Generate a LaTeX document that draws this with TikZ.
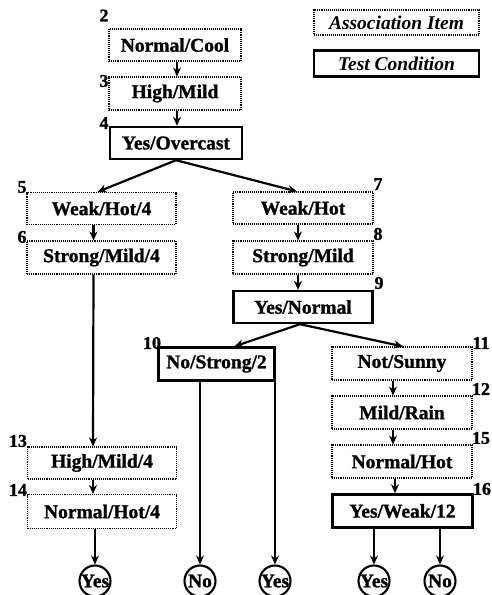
\documentclass[tikz,border=0pt]{standalone}
\usepackage{fontspec}
\setmainfont{Liberation Serif}[BoldFeatures={FakeBold=1.2}]
\usetikzlibrary{arrows.meta}
\begin{document}
\begin{tikzpicture}[x=1pt,y=-1pt,
  lbl/.style={font=\fontsize{19.5}{21}\selectfont\bfseries, inner sep=0pt},
  abox/.style={draw, densely dotted, line width=1.1pt, lbl},
  tbox/.style={draw, solid, line width=2.4pt, lbl},
  num/.style={font=\fontsize{18}{20}\selectfont\bfseries, inner sep=0pt},
  leaf/.style={draw, circle, line width=2.1pt, minimum size=31pt, inner sep=0pt, font=\fontsize{19.5}{21}\selectfont\bfseries},
  arr/.style={line width=2.2pt, -{Stealth[length=9pt,width=8pt]}}
]
\useasboundingbox (0,0) rectangle (491,595);
% legend
\node[abox, minimum width=165pt, minimum height=25pt] (ai) at (396.5,22.5) {\itshape Association Item};
\node[tbox, minimum width=165pt, minimum height=26pt] (tc) at (396.5,63.5) {\itshape Test Condition};
% top chain
\node[abox, minimum width=132pt, minimum height=32pt] (nc) at (175,45) {Normal/Cool};
\node[abox, minimum width=132pt, minimum height=33pt] (hm) at (175,93.5) {High/Mild};
\node[tbox, minimum width=132pt, minimum height=32pt] (yo) at (176,143) {Yes/Overcast};
% left column
\node[abox, minimum width=149pt, minimum height=32pt] (wh4) at (101.5,208.5) {Weak/Hot/4};
\node[abox, minimum width=149pt, minimum height=33pt] (sm4) at (101.5,257.5) {Strong/Mild/4};
\node[abox, minimum width=149pt, minimum height=32pt] (hm4) at (102,463) {High/Mild/4};
\node[abox, minimum width=149pt, minimum height=34pt] (nh4) at (102,511.5) {Normal/Hot/4};
% middle column
\node[abox, minimum width=140pt, minimum height=32pt] (wh) at (303,208) {Weak/Hot};
\node[abox, minimum width=140pt, minimum height=33pt] (sm) at (303,257.5) {Strong/Mild};
\node[tbox, minimum width=139pt, minimum height=32pt] (yn) at (303,307) {Yes/Normal};
\node[tbox, minimum width=116pt, minimum height=33pt] (ns2) at (216.5,364) {No/Strong/2};
% right column
\node[abox, minimum width=140pt, minimum height=33pt] (nsun) at (402,363.5) {Not/Sunny};
\node[abox, minimum width=140pt, minimum height=33pt] (mr) at (402,412.5) {Mild/Rain};
\node[abox, minimum width=140pt, minimum height=33pt] (nh) at (402,461.5) {Normal/Hot};
\node[tbox, minimum width=140pt, minimum height=33pt] (yw) at (402.5,511) {Yes/Weak/12};
% leaves
\node[leaf] (l1) at (95,581) {\makebox[0pt]{Yes}};
\node[leaf] (l2) at (200,581) {\makebox[0pt]{No}};
\node[leaf] (l3) at (275,581) {\makebox[0pt]{Yes}};
\node[leaf] (l4) at (374,581) {\makebox[0pt]{Yes}};
\node[leaf] (l5) at (440,581) {\makebox[0pt]{No}};
% numbers
\node[num] (n2) at (104,15.5) {2};
\node[num] (n3) at (104,81) {3};
\node[num] (n4) at (104,123) {4};
\node[num] (n5) at (22,187) {5};
\node[num] (n6) at (22,237) {6};
\node[num] (n7) at (378,184) {7};
\node[num] (n8) at (378,234) {8};
\node[num] (n9) at (379,283) {9};
\node[num] (n10) at (152,343) {10};
\node[num] (n11) at (481,343) {11};
\node[num] (n12) at (481,389) {12};
\node[num] (n15) at (481,438) {15};
\node[num] (n16) at (482,489) {16};
\node[num] (n13) at (18,441) {13};
\node[num] (n14) at (18,490) {14};
% connectors
\draw[arr] ([xshift=2pt]nc.south) -- ([xshift=2pt]hm.north);
\draw[arr] ([xshift=2pt]hm.south) -- ([xshift=1pt]yo.north);
\draw[arr] (yo.south) -- ([xshift=-4pt]wh4.north);
\draw[arr] (yo.south) -- ([xshift=-6pt]wh.north);
\draw[arr] ([xshift=-8pt]wh4.south) -- ([xshift=-8pt]sm4.north);
\draw[arr] ([xshift=-8pt]sm4.south) -- ([xshift=-9pt]hm4.north);
\draw[arr] ([xshift=-9pt]hm4.south) -- ([xshift=-9pt]nh4.north);
\draw[arr] (nh4.south -| l1) -- (l1.north);
\draw[arr] ([xshift=-5pt]wh.south) -- ([xshift=-5pt]sm.north);
\draw[arr] ([xshift=-5pt]sm.south) -- ([xshift=-5pt]yn.north);
\draw[arr] ([xshift=-3pt]yn.south) -- ([xshift=18pt]ns2.north);
\draw[arr] ([xshift=-3pt]yn.south) -- ([xshift=1pt]nsun.north);
\draw[arr] ([xshift=-9pt]nsun.south) -- ([xshift=-9pt]mr.north);
\draw[arr] ([xshift=-9pt]mr.south) -- ([xshift=-9pt]nh.north);
\draw[arr] ([xshift=-7pt]nh.south) -- ([xshift=-7.5pt]yw.north);
\draw[arr] (ns2.south -| l2) -- (l2.north);
\draw[arr] (ns2.south -| l3) -- (l3.north);
\draw[arr] (yw.south -| l4) -- (l4.north);
\draw[arr] (yw.south -| l5) -- (l5.north);
\end{tikzpicture}
\end{document}
